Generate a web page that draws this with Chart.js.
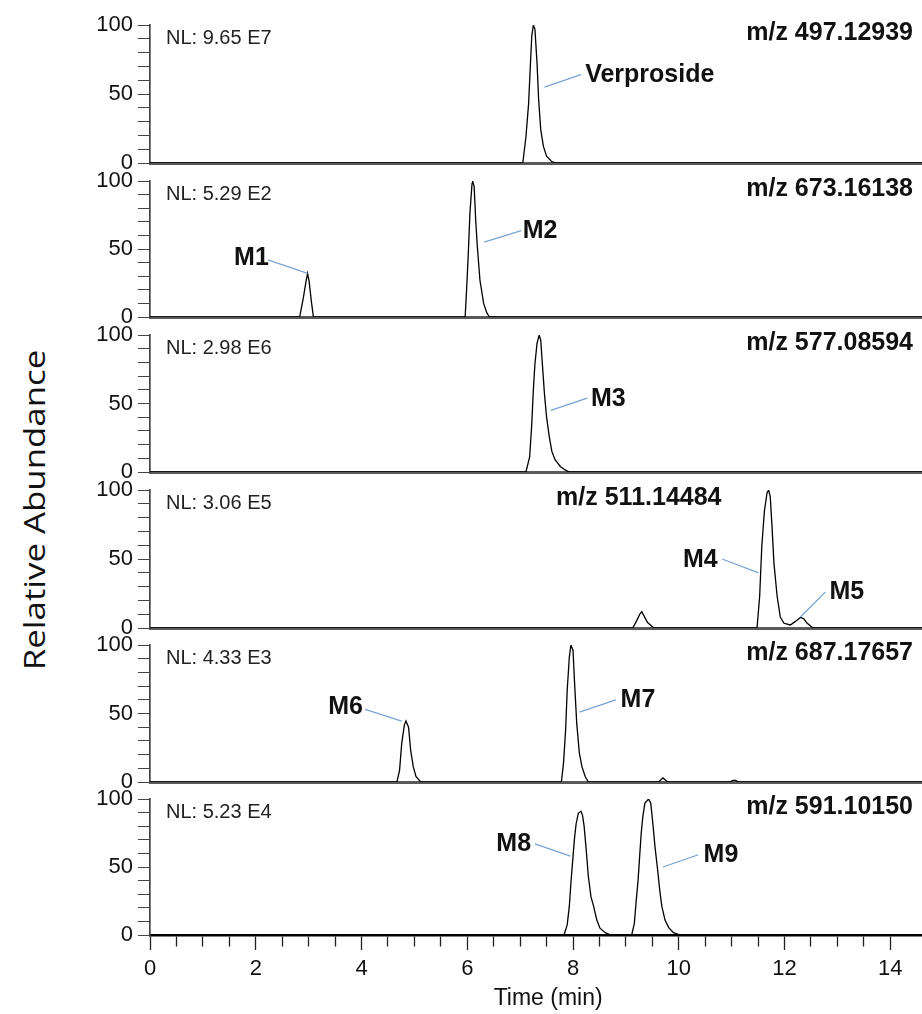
<!DOCTYPE html>
<html>
<head>
<meta charset="utf-8">
<script src="https://cdn.jsdelivr.net/npm/chart.js@4.4.0/dist/chart.umd.min.js"></script>
<style>
  html, body { margin: 0; padding: 0; background: #fff; }
  #wrap { position: relative; width: 922px; height: 1014px; overflow: hidden; }
  #wrap canvas { position: absolute; left: 0; }
  #yTitle {
    position: absolute; left: 33px; top: 510px;
    font: 29px "Open Sans"; color: #111; white-space: nowrap;
    transform: translate(-50%, -50%) rotate(-90deg) scaleX(1.2);
  }
</style>
</head>
<body>
<div id="wrap"><div id="yTitle">Relative Abundance</div></div>
<script>
// retention time (min) and relative abundance (%)
const timesP1 = [0, 7.05, 7.11, 7.16, 7.19, 7.22, 7.25, 7.28, 7.32, 7.35, 7.39, 7.44, 7.50, 7.60, 7.68, 14.6];
const abundP1 = [0, 0, 19, 43, 68, 92, 100, 97, 72, 46, 24, 12, 5, 1, 0, 0];

const timesP2 = [0, 2.83, 2.90, 2.95, 2.98, 3.01, 3.05, 3.09, 5.96, 5.99, 6.02, 6.05, 6.09, 6.10, 6.13, 6.16, 6.19, 6.24, 6.31, 6.37, 6.42, 14.6];
const abundP2 = [0, 0, 14, 26, 32, 26, 12, 0, 0, 22, 47, 76, 98, 100, 96, 71, 52, 27, 10, 3, 0, 0];

const timesP3 = [0, 7.11, 7.18, 7.22, 7.25, 7.28, 7.32, 7.36, 7.39, 7.42, 7.46, 7.50, 7.55, 7.60, 7.66, 7.76, 7.85, 7.93, 14.6];
const abundP3 = [0, 0, 11, 35, 60, 79, 94, 100, 96, 79, 57, 40, 26, 15, 9, 4, 1.5, 0, 0];

const timesP4 = [0, 9.13, 9.20, 9.27, 9.30, 9.34, 9.41, 9.53, 11.48, 11.53, 11.57, 11.62, 11.67, 11.70, 11.73, 11.76, 11.80, 11.86, 11.92, 11.99, 12.11, 12.20, 12.30, 12.36, 12.43, 12.54, 14.6];
const abundP4 = [0, 0, 5, 10.5, 11.8, 9, 4, 0, 0, 23, 59, 85, 98, 100, 95, 76, 47, 23, 8, 3.4, 2.2, 4.6, 7.7, 6.8, 3.4, 0, 0];

const timesP5 = [0, 4.67, 4.72, 4.76, 4.81, 4.84, 4.89, 4.93, 4.98, 5.03, 5.12, 7.78, 7.82, 7.86, 7.89, 7.93, 7.96, 8.00, 8.03, 8.07, 8.12, 8.17, 8.23, 8.29, 9.62, 9.70, 9.79, 10.97, 11.02, 11.08, 11.12, 14.6];
const abundP5 = [0, 0, 8.7, 28, 41.5, 44.6, 40, 23, 11, 4, 0, 0, 13.6, 38, 67, 91, 100, 96, 72, 43, 21, 11, 4, 0, 0, 3, 0, 0, 1.2, 1.2, 0, 0];

const timesP6 = [0, 7.83, 7.89, 7.93, 7.96, 8.00, 8.03, 8.06, 8.10, 8.15, 8.18, 8.21, 8.25, 8.29, 8.34, 8.39, 8.45, 8.51, 8.61, 8.72, 9.11, 9.16, 9.19, 9.23, 9.26, 9.29, 9.32, 9.36, 9.43, 9.47, 9.51, 9.55, 9.60, 9.64, 9.68, 9.74, 9.81, 9.90, 10.03, 14.6];
const abundP6 = [0, 0, 7.4, 21, 38, 57.6, 72, 82, 89.5, 91, 88, 80, 62.5, 43, 28, 21, 11, 5, 1.7, 0, 0, 8.6, 23, 40, 57.6, 75, 87, 97, 100, 97, 82, 65, 48, 33, 21, 11, 5.4, 1.7, 0, 0];

const nlLabels = ['NL: 9.65 E7', 'NL: 5.29 E2', 'NL: 2.98 E6', 'NL: 3.06 E5', 'NL: 4.33 E3', 'NL: 5.23 E4'];
const massLabels = ['m/z 497.12939', 'm/z 673.16138', 'm/z 577.08594', 'm/z 511.14484', 'm/z 687.17657', 'm/z 591.10150'];
const peakNames = [['Verproside'], ['M1', 'M2'], ['M3'], ['M4', 'M5'], ['M6', 'M7'], ['M8', 'M9']];

const timeTicks = [0, 2, 4, 6, 8, 10, 12, 14];
const abundTicks = [0, 50, 100];

const traces = [
  [timesP1, abundP1], [timesP2, abundP2], [timesP3, abundP3],
  [timesP4, abundP4], [timesP5, abundP5], [timesP6, abundP6],
];

// where the labels sit, in (time, abundance) of each panel
const massPlace = [[14.43, 94, 'right'], [14.43, 94, 'right'], [14.43, 94, 'right'], [7.68, 94, 'left'], [14.43, 94, 'right'], [14.43, 94, 'right']];
const calloutPlace = [
  [{ text: [8.23, 64], line: [7.46, 55, 8.15, 64] }],
  [{ text: [1.59, 43], line: [2.23, 42, 2.98, 32] }, { text: [7.05, 63], line: [6.32, 55, 7.02, 63.5] }],
  [{ text: [8.34, 53], line: [7.58, 45, 8.27, 54] }],
  [{ text: [10.08, 49], line: [10.82, 50, 11.51, 40] }, { text: [12.85, 26], line: [12.30, 8, 12.77, 26] }],
  [{ text: [3.37, 54.5], line: [4.07, 53, 4.76, 44.5] }, { text: [8.90, 60], line: [8.12, 51, 8.81, 60] }],
  [{ text: [6.55, 67], line: [7.28, 67, 7.95, 58] }, { text: [10.47, 59], line: [9.70, 50, 10.37, 59] }],
];

// panel layout in page pixels: 100% tick and 0% tick
const panelTop = [25, 181, 335, 490, 645, 799];
const panelBottom = [163, 317, 472, 628, 782, 935];
const pageHeight = 1014;
const padTop = 20;

const FONT = 'Liberation Sans';

const panelText = {
  id: 'panelText',
  afterDatasetsDraw(chart, args, opts) {
    const { ctx, chartArea, scales: { x, y } } = chart;
    ctx.save();
    ctx.textBaseline = 'middle';

    ctx.font = '20px "' + FONT + '"';
    ctx.fillStyle = '#222';
    ctx.textAlign = 'left';
    ctx.fillText(opts.nl, chartArea.left + 16, chartArea.top + 13);

    ctx.font = 'bold 25px "' + FONT + '"';
    ctx.fillStyle = '#111';
    ctx.textAlign = opts.massAt[2];
    ctx.fillText(opts.mass, x.getPixelForValue(opts.massAt[0]), y.getPixelForValue(opts.massAt[1]));

    ctx.textAlign = 'left';
    ctx.font = 'bold 25px "' + FONT + '"';
    opts.names.forEach((name, i) => {
      const c = opts.callouts[i];
      ctx.strokeStyle = '#7aa3d6';
      ctx.lineWidth = 1.3;
      ctx.beginPath();
      ctx.moveTo(x.getPixelForValue(c.line[0]), y.getPixelForValue(c.line[1]));
      ctx.lineTo(x.getPixelForValue(c.line[2]), y.getPixelForValue(c.line[3]));
      ctx.stroke();
      ctx.fillText(name, x.getPixelForValue(c.text[0]), y.getPixelForValue(c.text[1]));
    });

    // axis title for the shared time axis, under the bottom panel
    if (opts.xTitle) {
      ctx.font = '23px "' + FONT + '"';
      ctx.textAlign = 'center';
      ctx.fillStyle = '#111';
      ctx.fillText(opts.xTitle, x.getPixelForValue(7.53), chartArea.bottom + 64);
    }
    ctx.restore();
  }
};

const wrap = document.getElementById('wrap');

traces.forEach(([times, abund], p) => {
  const last = p === traces.length - 1;
  const canvas = document.createElement('canvas');
  const top = panelTop[p] - padTop;
  const height = last ? pageHeight - top : panelBottom[p] - panelTop[p] + 2 * padTop;
  canvas.width = 922;
  canvas.height = height;
  canvas.style.top = top + 'px';
  wrap.appendChild(canvas);

  const xAxis = last ? {
    type: 'linear', min: 0, max: 14.6,
    afterBuildTicks: s => { s.ticks = s.ticks.filter(t => Math.abs(t.value * 2 - Math.round(t.value * 2)) < 1e-6); },
    afterFit: s => { s.height = pageHeight - panelBottom[p]; },
    ticks: {
      stepSize: 0.5, autoSkip: false, maxRotation: 0, padding: 6, color: '#111',
      font: { family: FONT, size: 22 },
      callback: v => timeTicks.includes(v) ? String(v) : '',
    },
    grid: {
      drawOnChartArea: false, tickLength: 15, tickColor: '#222', tickWidth: 1.3,
      tickBorderDash: c => (c.tick && timeTicks.includes(c.tick.value)) ? [] : [10, 30],
    },
    border: { color: '#000', width: 2.5 },
  } : {
    type: 'linear', min: 0, max: 14.6,
    afterFit: s => { s.height = 0; },
    ticks: { display: false },
    grid: { display: false },
    border: { display: true, color: '#5a5a5a', width: 3 },
  };

  new Chart(canvas.getContext('2d'), {
    type: 'line',
    data: {
      datasets: [{
        data: times.map((t, i) => ({ x: t, y: abund[i] })),
        borderColor: '#000',
        borderWidth: 1.3,
        pointRadius: 0,
        tension: 0,
        fill: false,
      }]
    },
    options: {
      responsive: false,
      animation: false,
      events: [],
      layout: { padding: { top: padTop, bottom: last ? 0 : padTop, left: 0, right: 0 } },
      plugins: {
        legend: { display: false },
        tooltip: { enabled: false },
        panelText: {
          nl: nlLabels[p],
          mass: massLabels[p],
          massAt: massPlace[p],
          names: peakNames[p],
          callouts: calloutPlace[p],
          xTitle: last ? 'Time (min)' : null,
        },
      },
      scales: {
        x: xAxis,
        y: {
          min: 0, max: 100,
          afterFit: s => { s.width = 150; },
          ticks: {
            stepSize: 10, autoSkip: false, padding: 5, color: '#111',
            font: { family: FONT, size: 22 },
            callback: v => abundTicks.includes(v) ? String(v) : '',
          },
          grid: { drawOnChartArea: false, tickLength: 12, tickColor: '#444', tickWidth: 1 },
          border: { color: '#444', width: 1.7 },
        }
      }
    },
    plugins: [panelText]
  });
});
</script>
</body>
</html>
